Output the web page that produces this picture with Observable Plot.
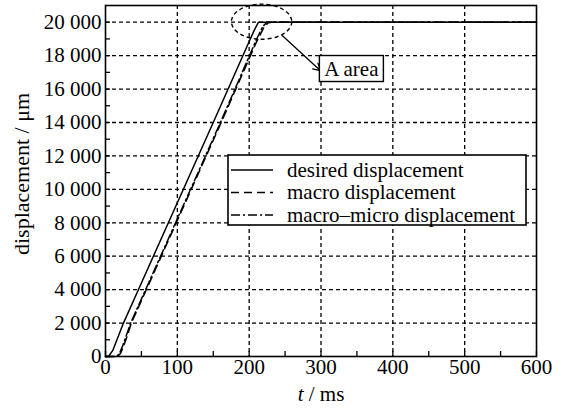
<!DOCTYPE html>
<html><head><meta charset="utf-8">
<script src="https://cdn.jsdelivr.net/npm/d3@7"></script>
<script src="https://cdn.jsdelivr.net/npm/@observablehq/plot@0.6"></script>
<style>
body{margin:0;background:#fff;}
#wrap{position:relative;width:567px;height:409px;font-family:"Liberation Serif","Times New Roman",serif;}
#legend{position:absolute;left:227px;top:154px;}
</style></head><body><div id="wrap"></div>
<script>
// ---- data ----
const desiredT = [0, 4, 10, 15, 20, 25, 50, 100, 150, 200, 208, 213, 600];
const desiredY = [0, 0, 350, 900, 1450, 2000, 4400, 9200, 14000, 18850, 19600, 20000, 20000];

const macroT = [0, 17, 21, 25, 30, 36, 60, 110, 160, 210, 220, 226, 231, 600];
const macroY = [0, 0, 200, 600, 1200, 2000, 4300, 9100, 13900, 18800, 19650, 19950, 20000, 20000];

const mmT = [0, 16, 20, 24, 29, 35, 60, 110, 160, 210, 219, 225, 600];
const mmY = [0, 0, 250, 650, 1250, 2000, 4400, 9200, 14000, 18950, 19750, 20000, 20000];

const seriesNames = ["desired displacement", "macro displacement", "macro\u2013micro displacement"];
const seriesDash = [null, "8,5", "9,3,2,3"];

const xTicks = [0, 100, 200, 300, 400, 500, 600];
const xMinor = d3.range(0, 601, 50);
const yTicks = d3.range(0, 20001, 2000);
const yMinor = d3.range(0, 20001, 1000);
const xGrid = [100, 200, 300, 400, 500];
const yGrid = d3.range(2000, 20001, 2000);

const areaCenter = [218, 20000];
const areaRadius = [42, 1050];
const arrowFrom = [246, 19200];
const arrowTo = [299, 17110];
const areaLabel = {t: 343, y: 17200, text: "A area"};

// ---- build rows ----
const toRows = (T, Y, s) => T.map((t, i) => ({t, y: Y[i], s}));
const series = [
  toRows(desiredT, desiredY, seriesNames[0]),
  toRows(macroT, macroY, seriesNames[1]),
  toRows(mmT, mmY, seriesNames[2])
];

const fmt = d => d3.format(",")(d).replace(/,/g, " ");
const blank = () => "";
const NS = "http://www.w3.org/2000/svg";
const FONT = '"Liberation Serif","Times New Roman",serif';
const FS = 21;

function ellipseMark(index, scales) {
  const {x, y} = scales;
  const cx = x(areaCenter[0]), cy = y(areaCenter[1]);
  const rx = Math.abs(x(areaCenter[0] + areaRadius[0]) - cx);
  const ry = Math.abs(y(areaCenter[1] + areaRadius[1]) - cy);
  const e = document.createElementNS(NS, "ellipse");
  e.setAttribute("cx", cx); e.setAttribute("cy", cy);
  e.setAttribute("rx", rx); e.setAttribute("ry", ry);
  e.setAttribute("fill", "none"); e.setAttribute("stroke", "black");
  e.setAttribute("stroke-width", 1.4); e.setAttribute("stroke-dasharray", "4,3");
  return e;
}
function labelBoxMark(index, scales) {
  const {x, y} = scales;
  const cx = x(areaLabel.t), cy = y(areaLabel.y);
  const g = document.createElementNS(NS, "g");
  const r = document.createElementNS(NS, "rect");
  r.setAttribute("x", cx - 32); r.setAttribute("y", cy - 13);
  r.setAttribute("width", 64); r.setAttribute("height", 26);
  r.setAttribute("fill", "white"); r.setAttribute("stroke", "black"); r.setAttribute("stroke-width", 1.4);
  const t = document.createElementNS(NS, "text");
  t.setAttribute("x", cx); t.setAttribute("y", cy);
  t.setAttribute("text-anchor", "middle"); t.setAttribute("dy", "0.34em");
  t.setAttribute("font-size", FS); t.setAttribute("fill", "black");
  t.setAttribute("font-family", FONT);
  t.textContent = areaLabel.text;
  g.append(r, t);
  return g;
}

const lineOpts = i => ({x: "t", y: "y", stroke: "black", strokeWidth: 1.5, strokeDasharray: seriesDash[i]});

const chart = Plot.plot({
  width: 567, height: 409,
  marginLeft: 105, marginRight: 31, marginTop: 5, marginBottom: 53,
  style: {fontFamily: FONT, fontSize: FS + "px", background: "white", color: "black"},
  x: {domain: [0, 600]},
  y: {domain: [0, 21000]},
  marks: [
    Plot.ruleX(xGrid, {stroke: "black", strokeWidth: 1.3, strokeDasharray: "4,3"}),
    Plot.ruleY(yGrid, {stroke: "black", strokeWidth: 1.3, strokeDasharray: "4,3"}),
    Plot.line(series[0], lineOpts(0)),
    Plot.line(series[1], lineOpts(1)),
    Plot.line(series[2], lineOpts(2)),
    // inward ticks
    Plot.axisY({ticks: yMinor, tickSize: 5, dx: 5, tickFormat: blank, label: null, strokeWidth: 1.3}),
    Plot.axisX({ticks: xMinor, tickSize: 5, dy: -5, tickFormat: blank, label: null, strokeWidth: 1.3}),
    // labels
    Plot.axisY({ticks: yTicks, tickSize: 0, tickPadding: 4, tickFormat: fmt, label: null, fontFamily: FONT}),
    Plot.axisX({ticks: xTicks, tickSize: 0, tickPadding: 3, tickFormat: fmt, label: null, fontFamily: FONT}),
    Plot.frame({stroke: "black", strokeWidth: 1.6}),
    ellipseMark,
    Plot.arrow([{x1: arrowFrom[0], y1: arrowFrom[1], x2: arrowTo[0], y2: arrowTo[1]}],
      {x1: "x1", y1: "y1", x2: "x2", y2: "y2", stroke: "black", strokeWidth: 1.3, headLength: 9, bend: 0}),
    labelBoxMark
  ]
});

const wrap = document.getElementById("wrap");
wrap.append(chart);

// axis titles
const svg = d3.select(chart);
svg.append("text")
  .attr("transform", "translate(22,174) rotate(-90)")
  .attr("text-anchor", "middle").attr("dy", "0.34em")
  .attr("font-size", 22).attr("fill", "black").attr("font-family", FONT)
  .text("displacement / \u03bcm");
const xt = svg.append("text")
  .attr("x", 321).attr("y", 394).attr("text-anchor", "middle").attr("dy", "0.34em")
  .attr("font-size", FS).attr("fill", "black").attr("font-family", FONT);
xt.append("tspan").attr("font-style", "italic").text("t");
xt.append("tspan").text(" / ms");

// legend overlay
const lw = 299, lh = 71, rowH = 22.5;
const leg = d3.select(wrap).append("svg").attr("id", "legend")
  .attr("width", lw + 2).attr("height", lh + 2);
leg.append("rect").attr("x", 1).attr("y", 1).attr("width", lw - 1).attr("height", lh - 1)
  .attr("fill", "white").attr("stroke", "black").attr("stroke-width", 1.6);
seriesNames.forEach((name, i) => {
  const cy = 16 + i * rowH;
  leg.append("line").attr("x1", 4).attr("x2", 46).attr("y1", cy).attr("y2", cy)
    .attr("stroke", "black").attr("stroke-width", 1.5)
    .attr("stroke-dasharray", seriesDash[i]);
  leg.append("text").attr("x", 60).attr("y", cy).attr("dy", "0.32em")
    .attr("font-size", FS).attr("fill", "black")
    .attr("font-family", FONT)
    .text(name);
});
</script></body></html>
